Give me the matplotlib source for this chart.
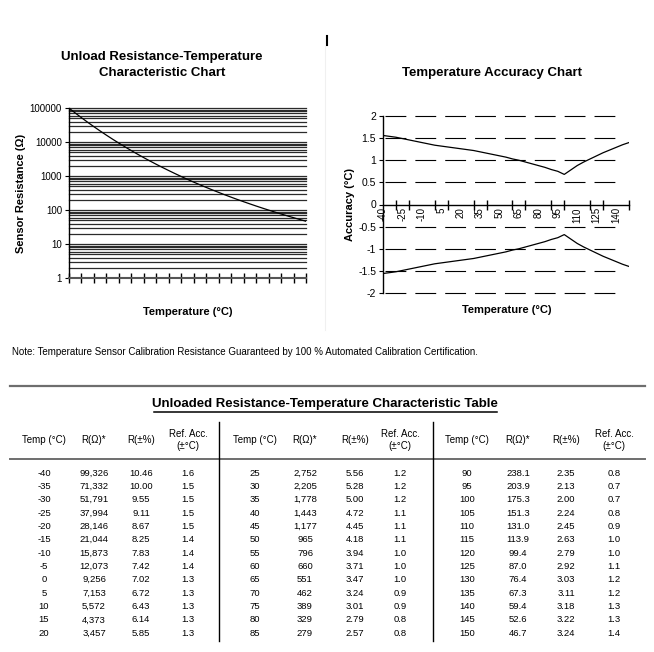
import matplotlib
matplotlib.use('Agg')
import matplotlib.pyplot as plt
from matplotlib.lines import Line2D
from matplotlib import font_manager
import numpy as np

# ---- data ----
temps = [-40, -35, -30, -25, -20, -15, -10, -5, 0, 5, 10, 15, 20,
         25, 30, 35, 40, 45, 50, 55, 60, 65, 70, 75, 80, 85,
         90, 95, 100, 105, 110, 115, 120, 125, 130, 135, 140, 145, 150]
r_ohm = [99326, 71332, 51791, 37994, 28146, 21044, 15873, 12073, 9256, 7153, 5572, 4373, 3457,
         2752, 2205, 1778, 1443, 1177, 965, 796, 660, 551, 462, 389, 329, 279,
         238.1, 203.9, 175.3, 151.3, 131.0, 113.9, 99.4, 87.0, 76.4, 67.3, 59.4, 52.6, 46.7]
r_pct = [10.46, 10.00, 9.55, 9.11, 8.67, 8.25, 7.83, 7.42, 7.02, 6.72, 6.43, 6.14, 5.85,
         5.56, 5.28, 5.00, 4.72, 4.45, 4.18, 3.94, 3.71, 3.47, 3.24, 3.01, 2.79, 2.57,
         2.35, 2.13, 2.00, 2.24, 2.45, 2.63, 2.79, 2.92, 3.03, 3.11, 3.18, 3.22, 3.24]
ref_acc = [1.6, 1.5, 1.5, 1.5, 1.5, 1.4, 1.4, 1.4, 1.3, 1.3, 1.3, 1.3, 1.3,
           1.2, 1.2, 1.2, 1.1, 1.1, 1.1, 1.0, 1.0, 1.0, 0.9, 0.9, 0.8, 0.8,
           0.8, 0.7, 0.7, 0.8, 0.9, 1.0, 1.0, 1.1, 1.2, 1.2, 1.3, 1.3, 1.4]

# accuracy envelope as drawn in the chart
acc_upper = [1.56, 1.54, 1.52, 1.49, 1.46, 1.43, 1.40, 1.37, 1.34, 1.32, 1.30, 1.28, 1.26,
             1.24, 1.22, 1.19, 1.16, 1.13, 1.10, 1.07, 1.03, 1.00, 0.96, 0.92, 0.88, 0.84,
             0.79, 0.75, 0.68, 0.78, 0.88, 0.96, 1.03, 1.10, 1.17, 1.23, 1.29, 1.35, 1.40]
acc_lower = [-1.56, -1.54, -1.52, -1.49, -1.46, -1.43, -1.40, -1.37, -1.34, -1.32, -1.30, -1.28, -1.26,
             -1.24, -1.22, -1.19, -1.16, -1.13, -1.10, -1.07, -1.03, -1.00, -0.96, -0.92, -0.88, -0.84,
             -0.79, -0.75, -0.68, -0.78, -0.88, -0.96, -1.03, -1.10, -1.17, -1.23, -1.29, -1.35, -1.40]

headers = ['Temp (°C)', 'R(Ω)*', 'R(±%)', 'Ref. Acc.\n(±°C)']

plt.rcParams['font.family'] = ['Liberation Sans', 'DejaVu Sans']
plt.rcParams['lines.scale_dashes'] = False

# narrow face for the table numbers (Calibri-like look)
installed = {f.name for f in font_manager.fontManager.ttflist}
num_font = 'Liberation Sans Narrow' if 'Liberation Sans Narrow' in installed else 'Liberation Sans'
num_size = 7.5 if num_font == 'Liberation Sans Narrow' else 6.8

W, H = 654, 652
fig = plt.figure(figsize=(W / 100, H / 100), dpi=100)


def fx(x):
    return x / W


def fy(y):
    return 1 - y / H


def ftext(x, y, s, **kw):
    fig.text(fx(x), fy(y), s, **kw)


def fline(x0, x1, y0, y1, **kw):
    fig.add_artist(Line2D([fx(x0), fx(x1)], [fy(y0), fy(y1)], transform=fig.transFigure, **kw))


idx = np.arange(len(temps))

# ---- left chart: resistance vs temperature ----
ax1 = fig.add_axes([fx(69), fy(278), fx(306 - 69), (278 - 108) / H])
ax1.set_yscale('log')
ax1.set_ylim(1, 100000)
ax1.set_xlim(0, len(temps) - 1)
for dec in [1, 10, 100, 1000, 10000]:
    for m in range(2, 11):
        ax1.axhline(dec * m, color='#2b2b2b', lw=0.9, zorder=1, clip_on=False)
ax1.plot(idx, r_ohm, color='black', lw=0.9, zorder=3)
ax1.set_yticks([1, 10, 100, 1000, 10000, 100000])
ax1.set_yticklabels(['1', '10', '100', '1000', '10000', '100000'])
ax1.yaxis.set_minor_locator(matplotlib.ticker.NullLocator())
ax1.set_xticks(idx[::2])
ax1.set_xticklabels([])
ax1.tick_params(axis='x', direction='inout', length=7, width=1, color='black')
ax1.tick_params(axis='y', direction='out', length=3, width=0.8, labelsize=7, pad=2)
for s in ['top', 'right']:
    ax1.spines[s].set_visible(False)
ax1.spines['left'].set_linewidth(1)
ax1.spines['bottom'].set_color('#555555')
ax1.spines['bottom'].set_linewidth(1.5)
ax1.set_ylabel('Sensor Resistance (Ω)', fontsize=8, fontweight='bold', labelpad=3)

ftext(162, 57, 'Unload Resistance-Temperature', ha='center', va='center', fontsize=9.5, fontweight='bold')
ftext(162, 73, 'Characteristic Chart', ha='center', va='center', fontsize=9.5, fontweight='bold')
ftext(188, 312, 'Temperature (°C)', ha='center', va='center', fontsize=8, fontweight='bold')

# ---- right chart: accuracy ----
ax2 = fig.add_axes([fx(383), fy(293), fx(629 - 383), (293 - 116) / H])
ax2.set_xlim(0, len(temps) - 1)
ax2.set_ylim(-2, 2)
for yv in [2, 1.5, 1, 0.5, -0.5, -1, -1.5, -2]:
    ax2.hlines(yv, 0.3, 37.1, color='black', lw=0.8, linestyles=(0, (15, 6.5)), zorder=1,
               clip_on=False)
ax2.plot(idx, acc_upper, color='black', lw=0.9, zorder=3)
ax2.plot(idx, acc_lower, color='black', lw=0.9, zorder=3)
ax2.spines['bottom'].set_position(('data', 0))
for s in ['top', 'right']:
    ax2.spines[s].set_visible(False)
ax2.spines['left'].set_linewidth(1)
ax2.spines['bottom'].set_linewidth(1)
ax2.set_yticks([2, 1.5, 1, 0.5, 0, -0.5, -1, -1.5, -2])
ax2.set_yticklabels(['2', '1.5', '1', '0.5', '0', '-0.5', '-1', '-1.5', '-2'])
ax2.tick_params(axis='y', direction='out', length=3, width=0.8, labelsize=7.5, pad=2)
ax2.set_xticks(idx[::3])
ax2.set_xticklabels([str(temps[i]) for i in idx[::3]], rotation=90, fontsize=7)
ax2.set_xticks(idx[::2], minor=True)
ax2.tick_params(axis='x', which='major', length=0, pad=2)
ax2.tick_params(axis='x', which='minor', direction='inout', length=7, width=1)
ax2.set_ylabel('Accuracy (°C)', fontsize=8, fontweight='bold', labelpad=2)

ftext(492, 73, 'Temperature Accuracy Chart', ha='center', va='center', fontsize=9.5, fontweight='bold')
ftext(507, 310, 'Temperature (°C)', ha='center', va='center', fontsize=8, fontweight='bold')

# small page marks
fline(327, 327, 36, 45, color='black', lw=1.5)
fline(325, 325, 46, 330, color='#f0f0f0', lw=0.8)

# ---- note and table ----
ftext(12, 352, 'Note: Temperature Sensor Calibration Resistance Guaranteed by 100 % Automated '
      'Calibration Certification.', ha='left', va='center', fontsize=7)
fline(10, 645, 386, 386, color='#6e6e6e', lw=1.6)

ftext(325, 404, 'Unloaded Resistance-Temperature Characteristic Table', ha='center', va='center',
      fontsize=9.5, fontweight='bold')
fline(154, 497, 412, 412, color='black', lw=1.1)

group_x = [[44, 94, 141, 188], [255, 305, 355, 400], [467, 518, 566, 614]]
for gx in group_x:
    for x, h in zip(gx, headers):
        ftext(x, 440, h, ha='center', va='center', fontsize=7, linespacing=1.35)
fline(10, 645, 459, 459, color='#6e6e6e', lw=1.4)
for xv in [219, 433]:
    fline(xv, xv, 422, 641, color='black', lw=1)

rows_per_group = 13
for g in range(3):
    for r in range(rows_per_group):
        i = g * rows_per_group + r
        y = 473 + r * 13.35
        res = r_ohm[i]
        res_s = f'{res:,.0f}' if temps[i] < 90 else f'{res:.1f}'
        vals = [str(temps[i]), res_s, f'{r_pct[i]:.2f}', f'{ref_acc[i]:.1f}']
        for x, s in zip(group_x[g], vals):
            ftext(x, y, s, ha='center', va='center', fontsize=num_size,
                  family=[num_font, 'DejaVu Sans'])

fig.savefig('out.png', dpi=100)
